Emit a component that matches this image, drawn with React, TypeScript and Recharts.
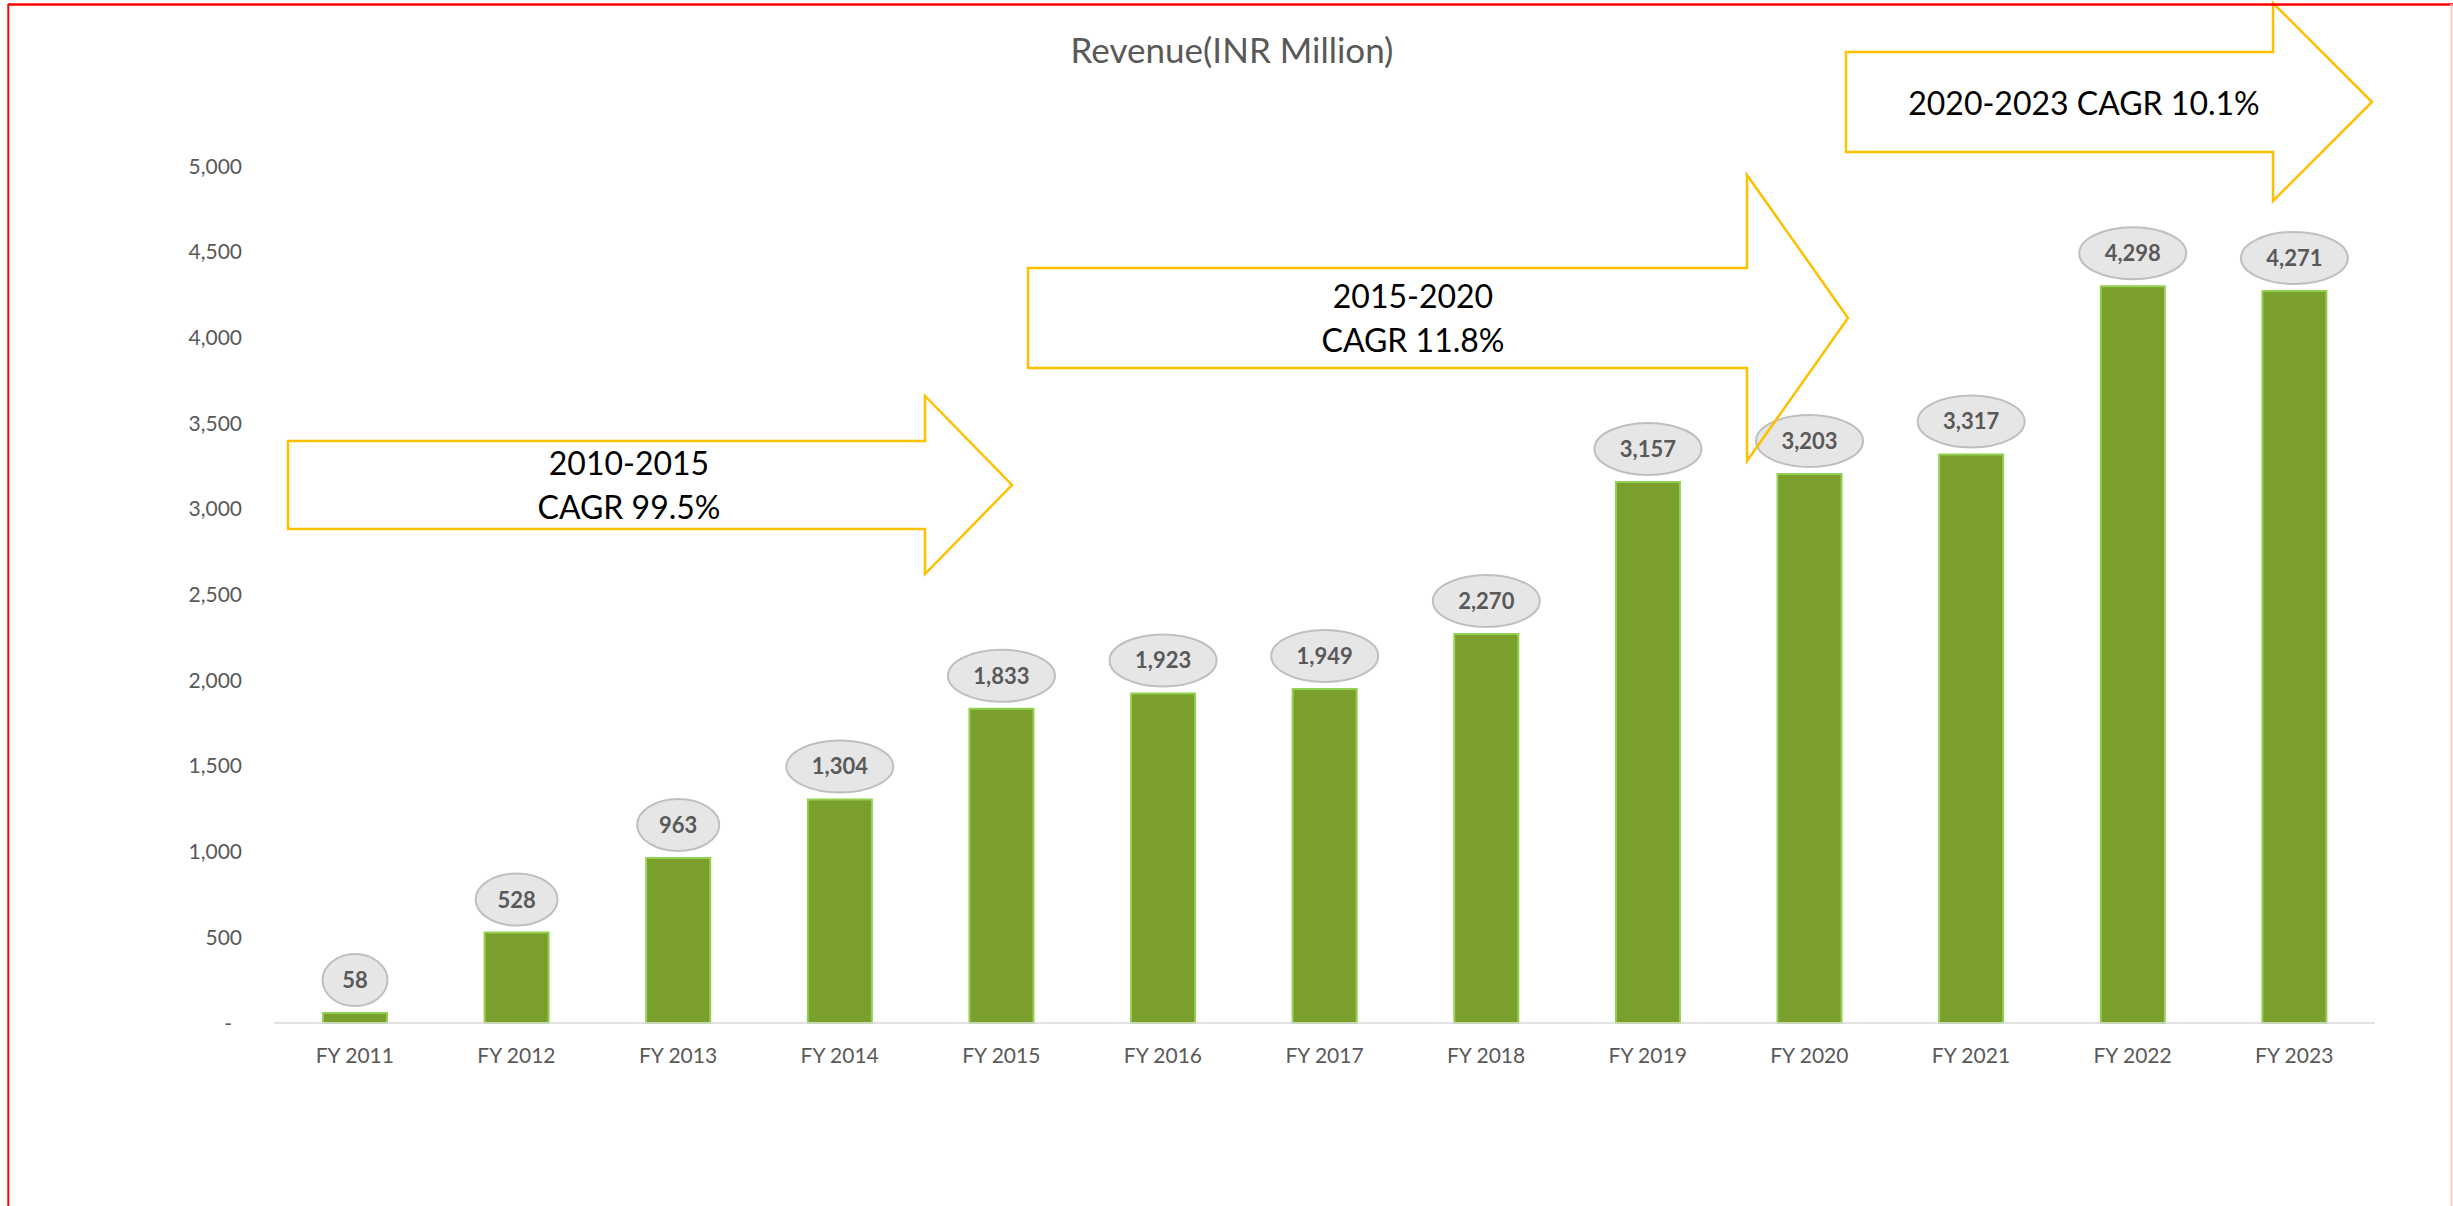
import React from 'react';
import { BarChart, Bar, XAxis, YAxis, LabelList } from 'recharts';

const categories = ['FY 2011', 'FY 2012', 'FY 2013', 'FY 2014', 'FY 2015', 'FY 2016', 'FY 2017', 'FY 2018', 'FY 2019', 'FY 2020', 'FY 2021', 'FY 2022', 'FY 2023'];
const revenue = [58, 528, 963, 1304, 1833, 1923, 1949, 2270, 3157, 3203, 3317, 4298, 4271];
const yTicks = [0, 500, 1000, 1500, 2000, 2500, 3000, 3500, 4000, 4500, 5000];
const chartTitle = 'Revenue(INR Million)';
const cagrNote1 = ['2010-2015', 'CAGR 99.5%'];
const cagrNote2 = ['2015-2020', 'CAGR 11.8%'];
const cagrNote3 = ['2020-2023 CAGR 10.1%'];

const data = categories.map((name, i) => ({ name, value: revenue[i] }));

const W = 2453;
const H = 1206;
const FONT = "Lato, 'Open Sans', sans-serif";
const GRAY = '#595959';

const fmt = (v: number) => v.toLocaleString('en-US');

const YTick = (props: any) => {
  const { x, y, payload } = props;
  const v = payload.value;
  return (
    <text x={v === 0 ? x - 10 : x} y={y} dy={7.5} textAnchor="end" fill={GRAY} fontSize={21} fontFamily={FONT}>
      {v === 0 ? '-' : fmt(v)}
    </text>
  );
};

const XTick = (props: any) => {
  const { x, y, payload } = props;
  return (
    <text x={x} y={y + 40} textAnchor="middle" fill={GRAY} fontSize={21} fontFamily={FONT}>
      {payload.value}
    </text>
  );
};

const BubbleLabel = (props: any) => {
  const { x, y, width, value } = props;
  const s = fmt(Number(value));
  const digits = s.replace(/,/g, '').length;
  const hasComma = s.includes(',');
  const rx = 32.5 + 8.5 * (digits - 2) + (hasComma ? 4 : 0);
  const cx = x + width / 2;
  const cy = y - 33;
  return (
    <g>
      <ellipse cx={cx} cy={cy} rx={rx} ry={26} fill="#E7E6E6" stroke="#BFBFBF" strokeWidth={2} />
      <text x={cx} y={cy + 8} textAnchor="middle" fill={GRAY} fontSize={22} fontWeight="bold" fontFamily={FONT}>
        {s}
      </text>
    </g>
  );
};

type ArrowGeom = { x0: number; hx: number; tip: number; bt: number; bb: number; ht: number; hb: number };

const arrowPath = (a: ArrowGeom) => {
  const ty = (a.bt + a.bb) / 2;
  return `M${a.x0},${a.bt} L${a.hx},${a.bt} L${a.hx},${a.ht} L${a.tip},${ty} L${a.hx},${a.hb} L${a.hx},${a.bb} L${a.x0},${a.bb} Z`;
};

const Overlay = () => {
  const a1: ArrowGeom = { x0: 288, hx: 925, tip: 1012, bt: 441, bb: 529, ht: 396, hb: 574 };
  const a2: ArrowGeom = { x0: 1028, hx: 1747, tip: 1848, bt: 268, bb: 368, ht: 175, hb: 461 };
  const a3: ArrowGeom = { x0: 1846, hx: 2273, tip: 2372, bt: 52, bb: 152, ht: 3, hb: 201 };
  const arrowStyle = { fill: 'none', stroke: '#FFC000', strokeWidth: 2.5 };
  const txt = { fontFamily: FONT, fontSize: 32, fill: '#000000', textAnchor: 'middle' as const };
  return (
    <svg width={W} height={H} style={{ position: 'absolute', left: 0, top: 0, pointerEvents: 'none' }}>
      <text x={1232} y={63} textAnchor="middle" fill={GRAY} fontSize={35} fontFamily={FONT}>
        {chartTitle}
      </text>
      <path d={arrowPath(a1)} {...arrowStyle} />
      <text x={629} y={475} {...txt}>{cagrNote1[0]}</text>
      <text x={629} y={519} {...txt}>{cagrNote1[1]}</text>
      <path d={arrowPath(a2)} {...arrowStyle} />
      <text x={1413} y={308} {...txt}>{cagrNote2[0]}</text>
      <text x={1413} y={352} {...txt}>{cagrNote2[1]}</text>
      <path d={arrowPath(a3)} {...arrowStyle} />
      <text x={2084} y={115} {...txt}>{cagrNote3[0]}</text>
      <line x1={8} y1={4.5} x2={W} y2={4.5} stroke="#FF0000" strokeWidth={2.5} />
      <line x1={8.3} y1={4} x2={8.3} y2={H} stroke="#FF0000" strokeWidth={2} />
      <line x1={W - 1.5} y1={4} x2={W - 1.5} y2={H} stroke="#FFC7C7" strokeWidth={2} />
    </svg>
  );
};

export default function App() {
  return (
    <div style={{ position: 'absolute', left: 0, top: 0, width: W, height: H, background: '#FFFFFF', overflow: 'hidden' }}>
      <BarChart width={W} height={H} data={data} margin={{ top: 166, right: 78, bottom: 123, left: 0 }}>
        <XAxis
          dataKey="name"
          interval={0}
          height={60}
          tickLine={false}
          tickSize={0}
          tickMargin={0}
          axisLine={{ stroke: '#D9D9D9', strokeWidth: 1.5 }}
          tick={<XTick />}
        />
        <YAxis
          domain={[0, 5000]}
          ticks={yTicks}
          interval={0}
          width={274}
          axisLine={false}
          tickLine={false}
          tickSize={0}
          tickMargin={32}
          tick={<YTick />}
        />
        <Bar dataKey="value" fill="#7A9F2D" stroke="#92D050" strokeWidth={2} barSize={64} isAnimationActive={false}>
          <LabelList dataKey="value" content={<BubbleLabel />} />
        </Bar>
      </BarChart>
      <Overlay />
    </div>
  );
}
